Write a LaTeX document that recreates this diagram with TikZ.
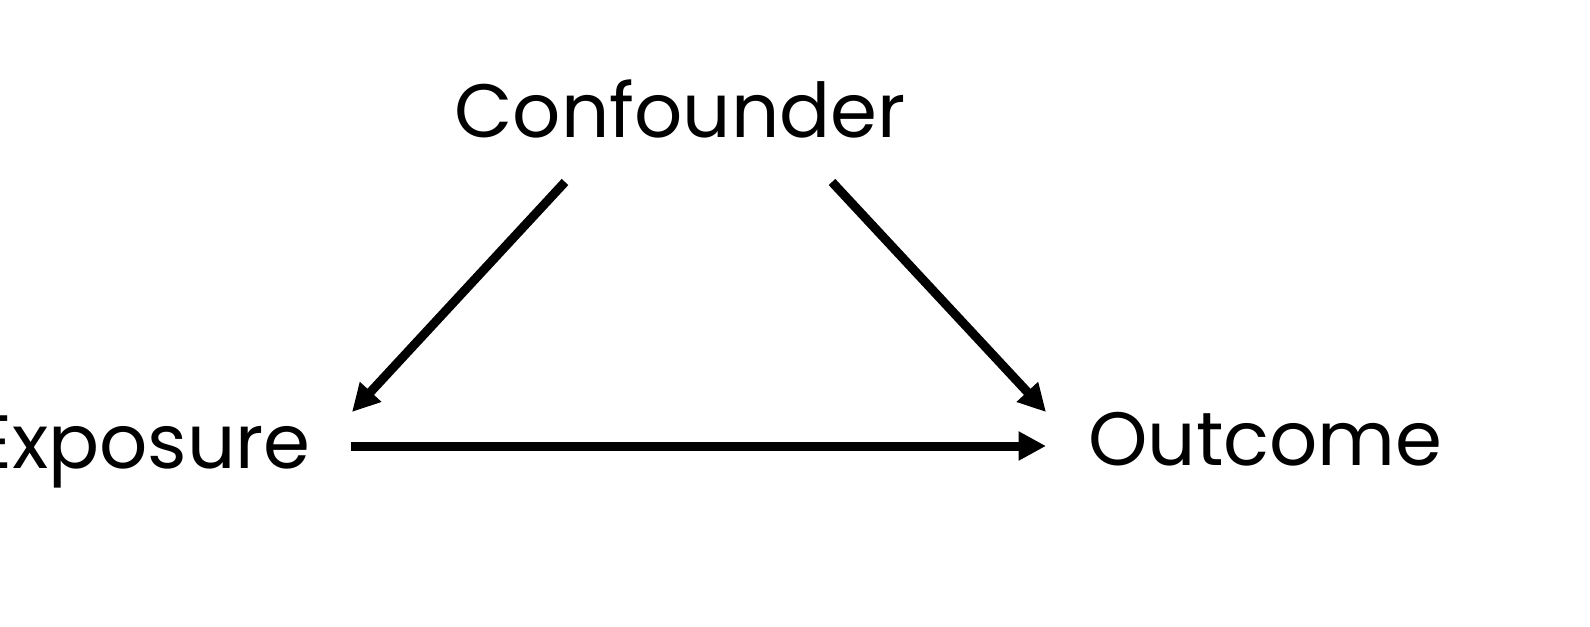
\documentclass[tikz,border=0pt]{standalone}
\usepackage{fontspec}
\setmainfont{Poppins}
\usetikzlibrary{arrows.meta}
\begin{document}
\begin{tikzpicture}[x=0.02cm,y=-0.02cm,
  lbl/.style={inner sep=0pt,font=\fontsize{43}{50}\selectfont},
  arr/.style={line width=9*0.02cm,-{Triangle[length=0.55cm,width=0.55cm]}}]
\useasboundingbox (0,0) rectangle (1590,626);
\node[lbl,anchor=base] (c) at (680,137) {Confounder};
\node[lbl,anchor=base east] (e) at (311,468) {Exposure};
\node[lbl,anchor=base west] (o) at (1088,465) {Outcome};
\coordinate (c1) at (565,182);
\coordinate (c2) at (832,182);
\coordinate (e1) at (352,412);
\coordinate (e2) at (351,446);
\coordinate (o1) at (1046,412);
\coordinate (o2) at (1046,446);
\draw[arr] (c1) -- (e1);
\draw[arr] (c2) -- (o1);
\draw[arr] (e2) -- (o2);
\end{tikzpicture}
\end{document}
